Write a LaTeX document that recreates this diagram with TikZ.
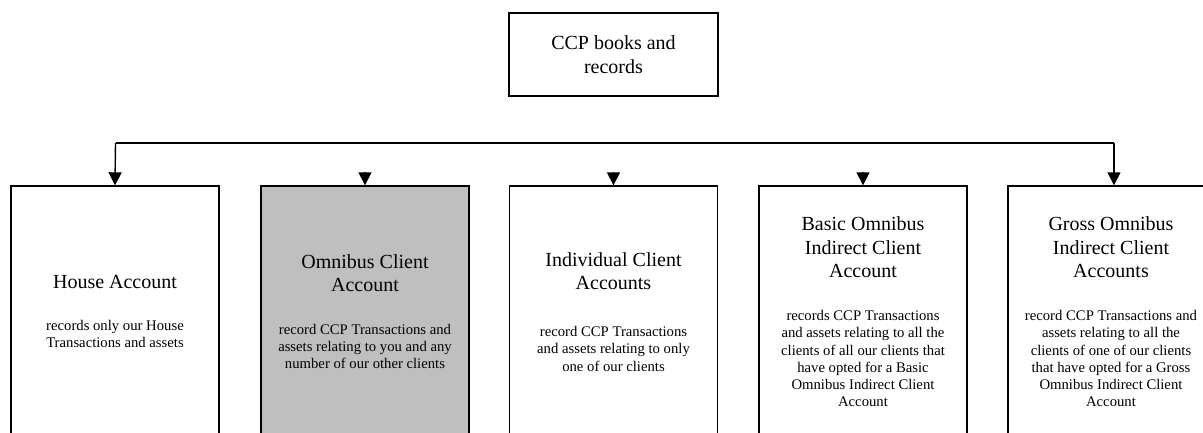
\documentclass[tikz,border=0pt]{standalone}
\usepackage{fontspec}
\setmainfont{Liberation Serif}
\usetikzlibrary{arrows.meta}
\definecolor{boxgray}{RGB}{191,191,191}
\newcommand{\tstrt}{\rule{0pt}{15pt}}
\newcommand{\dstrt}{\rule{0pt}{11pt}}
\begin{document}
\begin{tikzpicture}[x=1pt,y=-1pt,
  acct/.style={draw=black, line width=1.4pt, rectangle, minimum width=208pt, minimum height=250pt, inner sep=0pt},
  topbox/.style={draw=black, line width=1.4pt, rectangle, minimum width=209pt, minimum height=83pt, inner sep=0pt, align=center, font=\fontsize{20}{23.5}\selectfont},
  ttl/.style={align=center, inner sep=0pt, anchor=north, font=\fontsize{20}{23.5}\selectfont},
  dsc/.style={align=center, inner sep=0pt, anchor=north, font=\fontsize{14.7}{17.2}\selectfont},
  conn/.style={draw=black, line width=1.4pt},
  arr/.style={draw=black, line width=1.4pt, -{Triangle[width=13pt,length=13pt]}}
]
\useasboundingbox (0,0) rectangle (1203,432);
\clip (0,0) rectangle (1203,432);

% top box
\node[topbox] (top) at (613.5,54.5) {CCP books and\\records};

% account boxes
\node[acct] (b1) at (115,311) {};
\node[acct, fill=boxgray] (b2) at (365,311) {};
\node[acct] (b3) at (613.5,311) {};
\node[acct] (b4) at (863,311) {};
\node[acct, minimum width=212pt] (b5) at (1114,311) {};

% connectors
\coordinate (hL) at (115.5,143);
\coordinate (hR) at (1114,143);
\coordinate (a2) at (365,172);
\coordinate (a3) at (613.5,172);
\coordinate (a4) at (863,172);
\draw[conn] (hL) -- (hR);
\draw[arr] (hL) -- (b1.north);
\draw[arr] (hR) -- (b5.north);
\draw[arr] (a2) -- (b2.north);
\draw[arr] (a3) -- (b3.north);
\draw[arr] (a4) -- (b4.north);

% texts
\node[ttl] (t1) at (115,273) {\tstrt House Account};
\node[dsc] (d1) at (115,319) {\dstrt records only our House\\Transactions and assets};

\node[ttl] (t2) at (365,253) {\tstrt Omnibus Client\\Account};
\node[dsc] (d2) at (365,323) {\dstrt record CCP Transactions and\\assets relating to you and any\\number of our other clients};

\node[ttl] (t3) at (613.5,251) {\tstrt Individual Client\\Accounts};
\node[dsc] (d3) at (613.5,325.5) {\dstrt record CCP Transactions\\and assets relating to only\\one of our clients};

\node[ttl] (t4) at (863,215.5) {\tstrt Basic Omnibus\\Indirect Client\\Account};
\node[dsc] (d4) at (863,309.5) {\dstrt records CCP Transactions\\and assets relating to all the\\clients of all our clients that\\have opted for a Basic\\Omnibus Indirect Client\\Account};

\node[ttl] (t5) at (1111,215.5) {\tstrt Gross Omnibus\\Indirect Client\\Accounts};
\node[dsc] (d5) at (1111,309.5) {\dstrt record CCP Transactions and\\assets relating to all the\\clients of one of our clients\\that have opted for a Gross\\Omnibus Indirect Client\\Account};
\end{tikzpicture}
\end{document}
